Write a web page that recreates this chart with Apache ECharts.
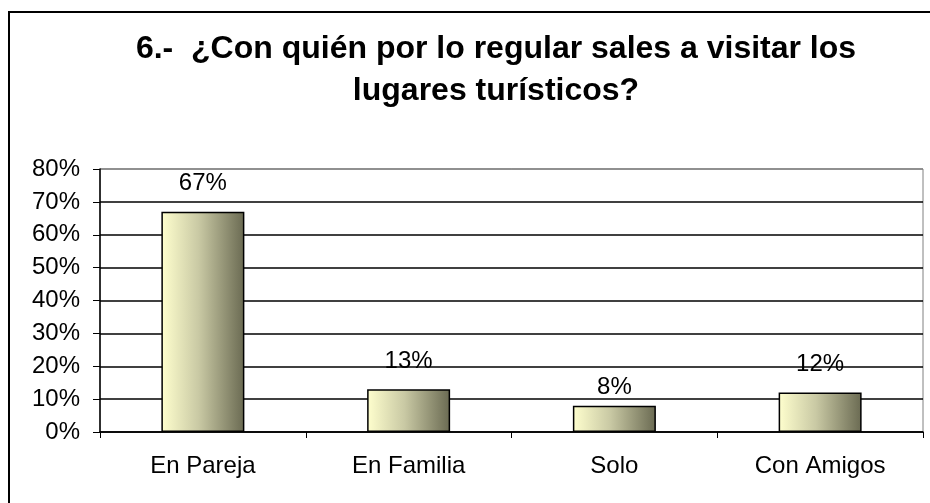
<!DOCTYPE html>
<html>
<head>
<meta charset="utf-8">
<script src="https://cdn.jsdelivr.net/npm/echarts@6/dist/echarts.min.js"></script>
<style>
  html, body { margin: 0; padding: 0; background: #fff; }
  #root1 { width: 930px; height: 503px; }
</style>
</head>
<body>
<div id="root1"></div>
<script>
const categories = ['En Pareja', 'En Familia', 'Solo', 'Con Amigos'];
const shares = [0.67, 0.13, 0.08, 0.12];
const yTicks = ['0%', '10%', '20%', '30%', '40%', '50%', '60%', '70%', '80%'];

const chartDom = document.getElementById('root1');
const myChart = echarts.init(chartDom);

const font = '"Liberation Sans", Arial, sans-serif';

const option = {
  animation: false,
  textStyle: { fontFamily: font },
  title: {
    text: '6.-  ¿Con quién por lo regular sales a visitar los\nlugares turísticos?',
    left: 491,
    top: 23,
    textAlign: 'center',
    textStyle: {
      fontFamily: font,
      fontSize: 32,
      fontWeight: 'bold',
      color: '#000',
      lineHeight: 42
    }
  },
  graphic: [{
    type: 'rect',
    shape: { x: 9, y: 12, width: 1000, height: 600 },
    style: { fill: null, stroke: '#000', lineWidth: 2 },
    silent: true
  }],
  grid: {
    left: 100,
    right: 7,
    top: 169,
    bottom: 71,
    show: true,
    borderColor: '#808080',
    borderWidth: 1,
    outerBoundsMode: 'none'
  },
  xAxis: {
    type: 'category',
    data: categories,
    axisLine: { lineStyle: { color: '#000', width: 1.5 } },
    axisTick: { show: true, length: 6, lineStyle: { color: '#000' } },
    axisLabel: { color: '#000', fontSize: 24, margin: 22, fontFamily: font }
  },
  yAxis: {
    type: 'value',
    min: 0,
    max: 0.8,
    interval: 0.1,
    axisLine: { show: true, lineStyle: { color: '#000', width: 1.5 } },
    axisTick: { show: true, length: 7, lineStyle: { color: '#000' } },
    axisLabel: {
      color: '#000',
      fontSize: 24,
      margin: 20,
      fontFamily: font,
      formatter: (v) => yTicks[Math.round(v * 10)]
    },
    splitLine: {
      lineStyle: {
        color: ['#000', '#000', '#000', '#000', '#000', '#000', '#000', '#000', '#808080'],
        width: 1.5
      }
    }
  },
  series: [{
    type: 'bar',
    data: shares.map((v, i) => ({
      value: v,
      label: { distance: i === 2 ? 6 : 16 }
    })),
    barWidth: 83,
    itemStyle: {
      color: new echarts.graphic.LinearGradient(0, 0, 1, 0, [
        { offset: 0, color: '#FFFFCE' },
        { offset: 0.45, color: '#C9C9A4' },
        { offset: 1, color: '#6A6A52' }
      ]),
      borderColor: '#000',
      borderWidth: 1.5
    },
    label: {
      show: true,
      position: 'top',
      color: '#000',
      fontSize: 24,
      fontFamily: font,
      formatter: (p) => Math.round(p.value * 100) + '%'
    }
  }]
};

myChart.setOption(option);
</script>
</body>
</html>
